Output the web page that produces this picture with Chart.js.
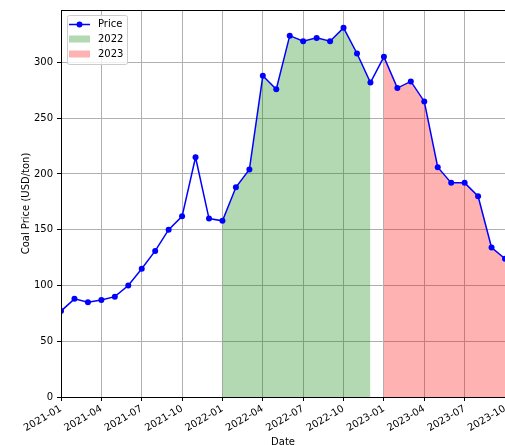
<!DOCTYPE html>
<html>
<head>
<meta charset="utf-8">
<script src="https://cdn.jsdelivr.net/npm/chart.js@4"></script>
<style>
  html, body { margin: 0; padding: 0; background: #fff; }
  #wrap { width: 505px; height: 445px; }
</style>
</head>
<body>
<div id="wrap"><canvas id="chart" width="505" height="445"></canvas></div>
<script>
// monthly coal price, 2021-01 .. 2023-10 (index 0 .. 33)
const price = [77, 88, 85, 87, 90, 100, 115, 131, 150, 162, 215, 160,
  158, 188, 204, 288, 276, 324, 319, 322, 319, 331, 308, 282,
  305, 277, 283, 265, 206, 192, 192, 180, 134, 124];
const start2022 = 12;
const start2023 = 24;
const xTickIdx = [0, 3, 6, 9, 12, 15, 18, 21, 24, 27, 30, 33];
const xTickLabels = ["2021-01", "2021-04", "2021-07", "2021-10", "2022-01", "2022-04",
  "2022-07", "2022-10", "2023-01", "2023-04", "2023-07", "2023-10"];
const yTicks = [0, 50, 100, 150, 200, 250, 300];

const FONT = "DejaVu Sans";
const GREEN = "rgba(0, 128, 0, 0.3)";
const RED = "rgba(255, 0, 0, 0.3)";

const pts = (from, to) => price.slice(from, to).map((v, i) => ({ x: from + i, y: v }));

const frameAndLegend = {
  id: "frameAndLegend",
  afterDraw(chart) {
    const { ctx, chartArea: a } = chart;
    ctx.save();
    ctx.strokeStyle = "#000";
    ctx.lineWidth = 1;
    ctx.strokeRect(Math.round(a.left) + 0.5, Math.round(a.top) + 0.5,
      Math.round(a.right - a.left), Math.round(a.bottom - a.top));

    // legend box
    const bx = a.left + 6, by = a.top + 5;
    ctx.fillStyle = "rgba(255,255,255,0.8)";
    ctx.strokeStyle = "#cccccc";
    ctx.beginPath();
    ctx.roundRect(bx + 0.5, by + 0.5, 60, 49, 2);
    ctx.fill();
    ctx.stroke();

    const hx = bx + 2, hw = 21;
    ctx.font = "10px '" + FONT + "'";
    ctx.textBaseline = "middle";
    ctx.textAlign = "left";

    // Price row
    let ry = by + 9.5;
    ctx.strokeStyle = "blue";
    ctx.lineWidth = 1.5;
    ctx.beginPath();
    ctx.moveTo(hx, ry);
    ctx.lineTo(hx + hw, ry);
    ctx.stroke();
    ctx.fillStyle = "blue";
    ctx.beginPath();
    ctx.arc(hx + hw / 2, ry, 3, 0, Math.PI * 2);
    ctx.fill();
    ctx.fillStyle = "#000";
    ctx.fillText("Price", hx + 29, ry);

    // 2022 / 2023 rows
    [["2022", GREEN], ["2023", RED]].forEach(([name, col], i) => {
      const y = by + 24 + i * 15;
      ctx.fillStyle = col;
      ctx.fillRect(hx, y - 3.5, hw, 7);
      ctx.fillStyle = "#000";
      ctx.fillText(name, hx + 29, y);
    });
    ctx.restore();
  }
};

new Chart(document.getElementById("chart"), {
  type: "line",
  data: {
    datasets: [
      {
        label: "Price",
        data: pts(0, price.length),
        borderColor: "blue",
        backgroundColor: "blue",
        borderWidth: 1.5,
        pointRadius: 3,
        pointBorderWidth: 0,
        tension: 0,
        fill: false
      },
      {
        label: "2022",
        data: pts(start2022, start2023),
        borderWidth: 0,
        borderColor: "rgba(0,0,0,0)",
        backgroundColor: GREEN,
        pointRadius: 0,
        fill: "origin"
      },
      {
        label: "2023",
        data: pts(start2023, price.length),
        borderWidth: 0,
        borderColor: "rgba(0,0,0,0)",
        backgroundColor: RED,
        pointRadius: 0,
        fill: "origin"
      }
    ]
  },
  options: {
    responsive: false,
    animation: false,
    layout: { autoPadding: false, padding: { top: 8, right: 0, left: 0, bottom: 0 } },
    plugins: {
      legend: { display: false },
      tooltip: { enabled: false }
    },
    scales: {
      x: {
        type: "linear",
        min: 0,
        max: 33,
        afterBuildTicks: (s) => { s.ticks = xTickIdx.map((v) => ({ value: v })); },
        afterFit: (s) => { s.height = 48; s.paddingRight = 0; s.paddingLeft = 0; },
        ticks: {
          callback: (v, i) => xTickLabels[i],
          maxRotation: 30,
          minRotation: 30,
          autoSkip: false,
          padding: 2,
          color: "#000",
          font: { family: FONT, size: 10 }
        },
        grid: { color: "#b0b0b0", lineWidth: 1, tickLength: 4, tickColor: "#000" },
        border: { display: false },
        title: {
          display: true,
          text: "Date",
          color: "#000",
          font: { family: FONT, size: 10 },
          padding: { top: 0, bottom: -3 }
        }
      },
      y: {
        min: 0,
        max: 347,
        afterBuildTicks: (s) => { s.ticks = yTicks.map((v) => ({ value: v })); },
        afterFit: (s) => { s.width = 61; },
        ticks: {
          color: "#000",
          padding: 4,
          font: { family: FONT, size: 10 }
        },
        grid: { color: "#b0b0b0", lineWidth: 1, tickLength: 4, tickColor: "#000" },
        border: { display: false },
        title: {
          display: true,
          text: "Coal Price (USD/ton)",
          color: "#000",
          font: { family: FONT, size: 10 },
          padding: { top: 20, bottom: 0 }
        }
      }
    }
  },
  plugins: [frameAndLegend]
});
</script>
</body>
</html>
